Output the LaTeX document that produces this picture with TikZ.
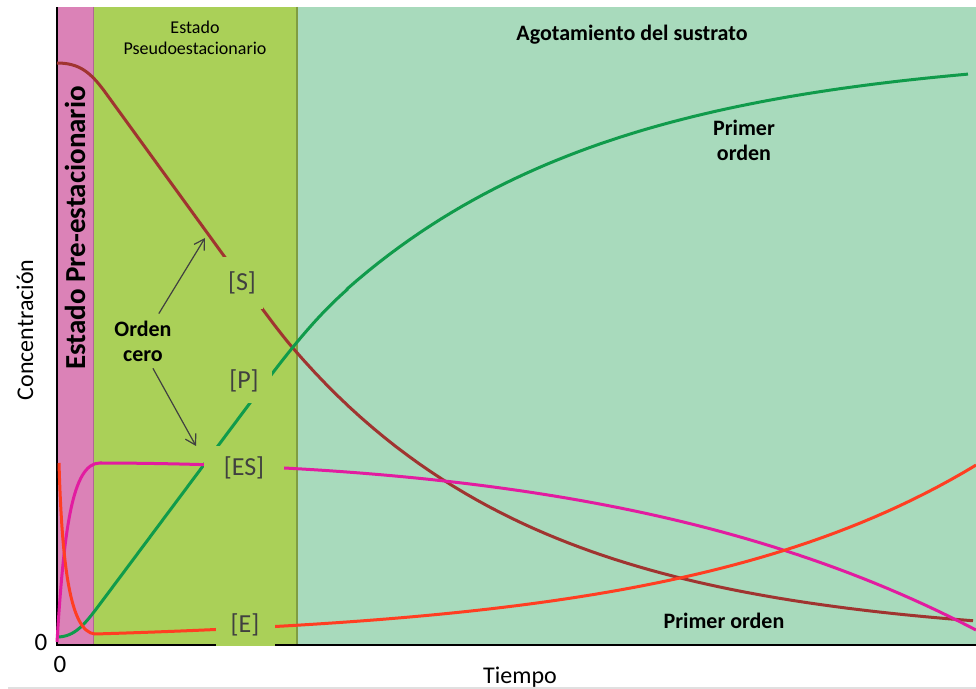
\documentclass[tikz,border=0pt]{standalone}
\usepackage{fontspec}
\setmainfont{Carlito}
\usetikzlibrary{arrows.meta}
\definecolor{bandpink}{RGB}{219,130,183}
\definecolor{bandgreen}{RGB}{170,208,88}
\definecolor{bandmint}{RGB}{168,218,188}
\definecolor{colS}{RGB}{160,52,48}
\definecolor{colP}{RGB}{16,155,75}
\definecolor{colES}{RGB}{226,28,160}
\definecolor{colE}{RGB}{255,62,34}
\definecolor{labgray}{RGB}{64,64,64}
\begin{document}
\begin{tikzpicture}[x=0.5pt,y=-0.5pt,
  curve/.style={line width=1.5pt},
  conc/.style={fill=bandgreen,text=labgray,inner sep=0pt,font=\fontsize{13}{15}\selectfont},
  tag/.style={font=\bfseries\fontsize{11}{12.5}\selectfont,align=center},
  arr/.style={-{Straight Barb[length=5pt,width=6pt]},draw=black!75,line width=0.6pt}]
\useasboundingbox (0,0) rectangle (976,689);
% fases
\fill[bandpink] (57,7) rectangle (93,645);
\fill[bandgreen] (93,7) rectangle (297,645);
\fill[bandmint] (297,7) rectangle (976,645);
\draw[bandpink!80!black, line width=0.5pt] (93,7) -- (93,645);
\draw[bandgreen!75!black, line width=0.8pt] (297,7) -- (297,645);
% ejes
\draw[line width=1.3pt] (57,7) -- (57,645) -- (976,645);
\draw[black!12, line width=0.8pt] (8,688) -- (976,688);
% curvas
\draw[curve,colS] (57,63) .. controls (80,63) and (91,73) .. (105,92) -- (240,278)
  .. controls (255,299) and (277,329.5) .. (292,347)
  -- plot[domain=292:973,samples=60] (\x,{640-293*exp(-0.004*(\x-292))});
\draw[curve,colP] (57,637) .. controls (75,637) and (85,624) .. (100,604) -- (250,403)
  .. controls (285,356.2) and (312,320.6) .. (347,289.7)
  -- plot[domain=347:968,samples=60] (\x,{50+295*exp(-0.0037*(\x-290))});
\draw[curve,colES] (57,642) .. controls (64,530) and (72,463) .. (100,463)
  -- plot[domain=100:976,samples=70] (\x,{463+103.7*((\x-93)/883)^2+63.3*((\x-93)/883)^4});
\draw[curve,colE] (59,463) .. controls (62,565) and (70,632) .. (95,634)
  -- plot[domain=95:976,samples=70] (\x,{634-8.85*(exp(3*(\x-95)/881)-1)});
% etiquetas de las especies
\node[conc, minimum width=21pt, minimum height=26pt] (labS) at (242,283) {[S]};
\node[conc, minimum width=28pt, minimum height=22pt] (labP) at (244,381) {[P]};
\node[conc, minimum width=40pt, minimum height=22pt] (labES) at (244,468) {[ES]};
\node[conc, minimum width=29.5pt, minimum height=21pt] (labE) at (245,625) {[E]};
% textos
\node[rotate=90, font=\bfseries\fontsize{14.5}{16}\selectfont] (pre) at (75,228) {Estado Pre-estacionario};
\node[align=center, font=\fontsize{9}{10.5}\selectfont] (pseudo) at (195,38) {Estado\\Pseudoestacionario};
\node[tag] (agot) at (632,35) {Agotamiento del sustrato};
\node[tag] (ord1) at (744,140) {Primer\\orden};
\node[tag] (ord2) at (724,621) {Primer orden};
\node[tag] (ocero) at (143,341) {Orden\\cero};
\node[rotate=90, font=\fontsize{12}{14}\selectfont] (ylab) at (25,330) {Concentración};
\node[font=\fontsize{12}{14}\selectfont] (xlab) at (520,677) {Tiempo};
\node[font=\fontsize{12.5}{14}\selectfont] (y0) at (41,642) {0};
\node[font=\fontsize{12.5}{14}\selectfont] (x0) at (60,664) {0};
% flechas orden cero
\coordinate (szero) at (205,238);
\coordinate (pzero) at (196,446);
\draw[arr] (ocero.60) -- (szero);
\draw[arr] (ocero.-70) -- (pzero);
\end{tikzpicture}
\end{document}
